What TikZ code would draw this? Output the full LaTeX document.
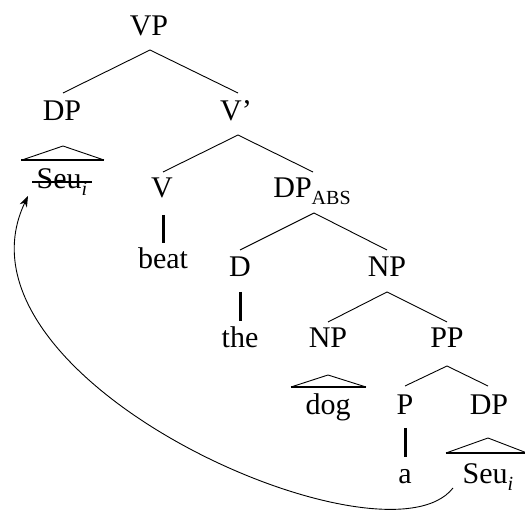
\documentclass[tikz,border=0pt]{standalone}
\usepackage{fontspec}
\setmainfont{Liberation Serif}
\usetikzlibrary{arrows.meta}
\newcommand\mysub[1]{\raisebox{-7pt}{\fontsize{20}{20}\selectfont #1}}
\begin{document}
\begin{tikzpicture}[x=1pt,y=-1pt,
  lbl/.style={anchor=base,inner sep=0pt,font=\fontsize{30}{36}\selectfont},
  edge/.style={line width=0.9pt},
  stem/.style={line width=3pt},
  tribase/.style={line width=2.4pt}]
\useasboundingbox (0,0) rectangle (525,510);
\node[lbl] (vp) at (149,36) {VP};
\node[lbl] (dp) at (62,121) {DP};
\node[lbl] (vbar) at (236,121) {V’};
\node[lbl] (seu1) at (62,189) {Seu\mysub{\itshape i}};
\node[lbl] (v) at (162,198) {V};
\node[lbl] (dpabs) at (312,198) {DP\mysub{ABS}};
\node[lbl] (beat) at (163,269) {beat};
\node[lbl] (d) at (240,277) {D};
\node[lbl] (np1) at (387,277) {NP};
\node[lbl] (the) at (240,348) {the};
\node[lbl] (np2) at (328,348) {NP};
\node[lbl] (pp) at (447,348) {PP};
\node[lbl] (dog) at (328,415) {dog};
\node[lbl] (p) at (405,415) {P};
\node[lbl] (dp2) at (489,415) {DP};
\node[lbl] (a) at (405,483) {a};
\node[lbl] (seu2) at (488,483) {Seu\mysub{\itshape i}};
% branches
\draw[edge] ([xshift=1pt,yshift=-14pt]vp.base) -- ([xshift=1pt,yshift=28pt]dp.base);
\draw[edge] ([xshift=1pt,yshift=-14pt]vp.base) -- ([xshift=2pt,yshift=28pt]vbar.base);
\draw[edge] ([xshift=2pt,yshift=-14pt]vbar.base) -- ([xshift=1pt,yshift=26pt]v.base);
\draw[edge] ([xshift=2pt,yshift=-14pt]vbar.base) -- ([xshift=1pt,yshift=26pt]dpabs.base);
\draw[edge] ([xshift=2pt,yshift=-15pt]dpabs.base) -- ([yshift=27pt]d.base);
\draw[edge] ([xshift=2pt,yshift=-15pt]dpabs.base) -- ([yshift=27pt]np1.base);
\draw[edge] ([yshift=-15pt]np1.base) -- ([yshift=26pt]np2.base);
\draw[edge] ([yshift=-15pt]np1.base) -- ([yshift=26pt]pp.base);
\draw[edge] ([yshift=-18pt]pp.base) -- ([yshift=29pt]p.base);
\draw[edge] ([yshift=-18pt]pp.base) -- ([xshift=-1pt,yshift=29pt]dp2.base);
% stems
\draw[stem] ([xshift=1pt,yshift=-17pt]v.base) -- ([yshift=26pt]beat.base);
\draw[stem] ([yshift=-15pt]d.base) -- ([yshift=27pt]the.base);
\draw[stem] ([yshift=-13pt]p.base) -- ([yshift=26pt]a.base);
% triangles
\draw[edge] ([xshift=-40pt,yshift=-39pt]dp.base) -- ([xshift=1pt,yshift=-25pt]dp.base) -- ([xshift=42pt,yshift=-39pt]dp.base);
\draw[tribase] ([xshift=-41pt,yshift=-39pt]dp.base) -- ([xshift=42pt,yshift=-39pt]dp.base);
\draw[edge] ([xshift=-37pt,yshift=-39pt]np2.base) -- ([yshift=-27pt]np2.base) -- ([xshift=38pt,yshift=-39pt]np2.base);
\draw[tribase] ([xshift=-37pt,yshift=-39pt]np2.base) -- ([xshift=38pt,yshift=-39pt]np2.base);
\draw[edge] ([xshift=-43pt,yshift=-38pt]dp2.base) -- ([xshift=-1pt,yshift=-23pt]dp2.base) -- ([xshift=38pt,yshift=-38pt]dp2.base);
\draw[tribase] ([xshift=-43pt,yshift=-38pt]dp2.base) -- ([xshift=38pt,yshift=-38pt]dp2.base);
% strike-through
\draw[line width=1.6pt] ([xshift=-30pt,yshift=7pt]seu1.base) -- ([xshift=30pt,yshift=7pt]seu1.base);
% movement arrow
\draw[edge,-{Stealth[length=11pt,width=8pt]}] ([xshift=-35pt,yshift=-5pt]seu2.base) .. controls (385,575) and (-60,380) .. ([xshift=-34pt,yshift=-7pt]seu1.base);
\end{tikzpicture}
\end{document}
